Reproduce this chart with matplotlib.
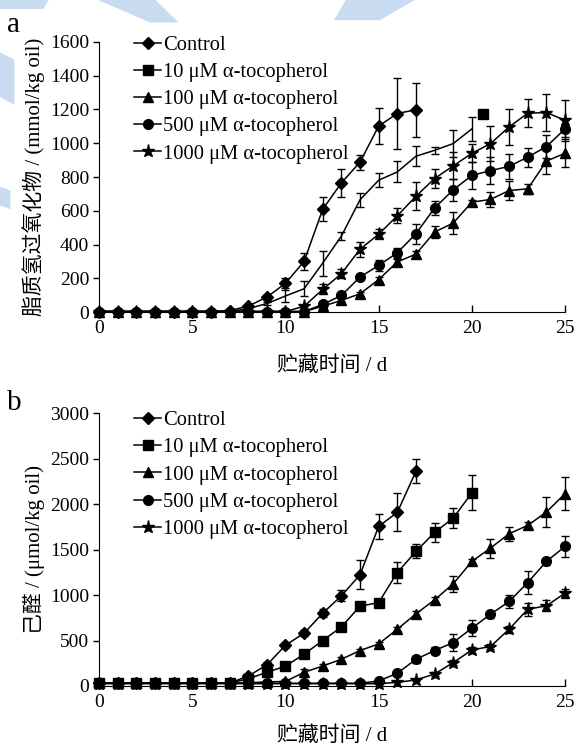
import matplotlib
matplotlib.use("Agg")
import matplotlib.pyplot as plt
from matplotlib.lines import Line2D
from matplotlib.patches import Polygon
import numpy as np

plt.rcParams["font.family"] = ["Liberation Serif", "Noto Sans CJK SC"]
plt.rcParams["font.size"] = 14

labels = [
    "Control",
    "10 μM α-tocopherol",
    "100 μM α-tocopherol",
    "500 μM α-tocopherol",
    "1000 μM α-tocopherol",
]
markers = ["D", "s", "^", "o", "*"]
marker_sizes = [6, 6.5, 7.5, 7, 9.5]

# panel a: lipid hydroperoxides (mmol/kg oil), days 0..n
a_control = [3, 3, 3, 3, 3, 3, 3, 8, 35, 88, 170, 300, 609, 765, 888, 1102, 1176, 1199]
a_control_err = [0, 0, 0, 0, 0, 0, 0, 0, 10, 15, 30, 50, 70, 85, 45, 108, 210, 160]
a_10 = [3, 3, 3, 3, 3, 3, 3, 3, 20, 50, 95, 138, 290, 450, 665, 781, 830, 923, 958, 998, 1085]
a_10_err = [0, 0, 0, 0, 0, 0, 0, 0, 5, 10, 35, 45, 74, 25, 41, 43, 62, 59, 20, 80, 69]
a_10_stray_day = [20.6]
a_10_stray = [1172]
a_100 = [3, 3, 3, 3, 3, 3, 3, 3, 3, 3, 3, 3, 34, 69, 108, 192, 297, 343, 474, 527,
         651, 667, 720, 730, 894, 941]
a_100_err = [0, 0, 0, 0, 0, 0, 0, 0, 0, 0, 0, 0, 8, 12, 12, 15, 20, 20, 35, 66,
             15, 42, 57, 30, 74, 84]
a_500 = [3, 3, 3, 3, 3, 3, 3, 3, 3, 3, 3, 3, 45, 98, 207, 276, 351, 464, 616, 724,
         809, 838, 863, 918, 980, 1085]
a_500_err = [0, 0, 0, 0, 0, 0, 0, 0, 0, 0, 0, 0, 10, 12, 15, 35, 30, 59, 44, 64,
             79, 81, 74, 56, 67, 50]
a_1000 = [3, 3, 3, 3, 3, 3, 3, 3, 3, 3, 3, 34, 134, 227, 372, 461, 570, 686, 791, 866,
          940, 998, 1097, 1178, 1182, 1136]
a_1000_err = [0, 0, 0, 0, 0, 0, 0, 0, 0, 0, 0, 10, 30, 25, 44, 30, 44, 84, 54, 80,
              54, 104, 108, 82, 108, 123]

# panel b: hexanal (umol/kg oil)
b_control = [30, 30, 30, 30, 30, 30, 30, 30, 110, 231, 448, 581, 801, 992, 1224, 1757, 1911, 2363]
b_control_err = [0, 0, 0, 0, 0, 0, 0, 0, 20, 30, 30, 30, 45, 60, 160, 140, 210, 133]
b_10 = [30, 30, 30, 30, 30, 30, 30, 30, 80, 150, 218, 350, 500, 650, 878, 918, 1249,
        1481, 1690, 1849, 2125]
b_10_err = [0, 0, 0, 0, 0, 0, 0, 0, 15, 20, 20, 20, 25, 25, 30, 30, 115, 77, 105, 115, 193]
b_100 = [30, 30, 30, 30, 30, 30, 30, 30, 35, 45, 50, 150, 220, 294, 390, 463, 625, 794,
         948, 1125, 1371, 1518, 1676, 1768, 1915, 2117]
b_100_err = [0, 0, 0, 0, 0, 0, 0, 0, 0, 0, 0, 40, 20, 20, 20, 20, 25, 30, 30, 90, 30,
             105, 75, 40, 170, 180]
b_500 = [30, 30, 30, 30, 30, 30, 30, 30, 30, 30, 30, 30, 30, 30, 30, 55, 140, 294, 390,
         478, 636, 790, 930, 1139, 1371, 1536]
b_500_err = [0, 0, 0, 0, 0, 0, 0, 0, 0, 0, 0, 0, 0, 0, 0, 20, 20, 40, 40, 90, 90, 40,
             75, 123, 40, 114]
b_1000 = [25, 25, 25, 25, 25, 25, 25, 25, 25, 25, 25, 25, 25, 25, 25, 25, 40, 66, 132,
          257, 397, 434, 625, 845, 882, 1022]
b_1000_err = [0, 0, 0, 0, 0, 0, 0, 0, 0, 0, 0, 0, 0, 0, 0, 0, 0, 15, 20, 30, 30, 30, 40,
              70, 60, 50]

x_ticks = [0, 5, 10, 15, 20, 25]
a_y_ticks = [0, 200, 400, 600, 800, 1000, 1200, 1400, 1600]
b_y_ticks = [0, 500, 1000, 1500, 2000, 2500, 3000]


def draw_series(ax, values, errors, marker, size, show_markers=True):
    days = np.arange(len(values))
    values = np.asarray(values, dtype=float)
    errors = np.asarray(errors, dtype=float)
    ax.plot(days, values, color="black", linewidth=1.1,
            marker=marker if show_markers else None, markersize=size,
            markerfacecolor="black", markeredgecolor="black", clip_on=False, zorder=3)
    keep = errors > 0
    ax.errorbar(days[keep], values[keep], yerr=errors[keep], fmt="none",
                ecolor="black", elinewidth=1.0, capsize=3.2, capthick=1.0,
                clip_on=False, zorder=2)


def style_axis(ax, y_ticks, ylabel, xlabel_y, legend_y):
    ax.set_xlim(0, 25)
    ax.set_ylim(y_ticks[0], y_ticks[-1])
    ax.set_xticks(x_ticks)
    ax.set_yticks(y_ticks)
    ax.spines["top"].set_visible(False)
    ax.spines["right"].set_visible(False)
    ax.tick_params(axis="x", direction="in", length=5, width=1, pad=6)
    ax.tick_params(axis="y", direction="out", length=4, width=1, pad=3)
    ax.set_ylabel(ylabel, fontsize=15)
    ax.yaxis.set_label_coords(-0.115, 0.5)
    ax.set_xlabel("贮藏时间 / d", fontsize=15)
    ax.xaxis.set_label_coords(0.5, xlabel_y)
    handles = [
        Line2D([], [], color="black", linewidth=1.1, marker=m, markersize=s,
               markerfacecolor="black")
        for m, s in zip(markers, marker_sizes)
    ]
    ax.legend(handles, labels, loc="upper left", bbox_to_anchor=(0.058, legend_y),
              frameon=False, handlelength=1.3, handletextpad=0.1,
              labelspacing=0.38, borderaxespad=0, fontsize=14.8)


fig = plt.figure(figsize=(5.76, 7.47), dpi=100)

# light blue watermark shapes at the top left
watermark = "#c9dbf1"
for pts in [
    [(0.0, 1.0), (0.085, 1.0), (0.075, 0.988), (0.0, 0.988)],
    [(0.17, 1.0), (0.27, 1.0), (0.31, 0.97), (0.26, 0.97)],
    [(0.60, 1.0), (0.72, 1.0), (0.66, 0.973), (0.58, 0.973)],
    [(0.0, 0.93), (0.025, 0.92), (0.025, 0.86), (0.0, 0.87)],
    [(0.0, 0.75), (0.018, 0.745), (0.018, 0.72), (0.0, 0.725)],
]:
    fig.patches.append(Polygon(pts, closed=True, transform=fig.transFigure,
                               facecolor=watermark, edgecolor="none", zorder=0))

ax_a = fig.add_axes([0.172, 0.5823, 0.809, 0.3615])
ax_b = fig.add_axes([0.172, 0.0817, 0.809, 0.3648])

for values, errors, m, s in zip(
    [a_control, a_10, a_100, a_500, a_1000],
    [a_control_err, a_10_err, a_100_err, a_500_err, a_1000_err],
    markers, marker_sizes,
):
    draw_series(ax_a, values, errors, m, s, show_markers=(m != "s"))
ax_a.plot(a_10_stray_day, a_10_stray, linestyle="none", marker="s",
          markersize=6.5, color="black", zorder=3)
style_axis(ax_a, a_y_ticks, "脂质氢过氧化物 / (mmol/kg oil)", -0.165, 1.055)

for values, errors, m, s in zip(
    [b_control, b_10, b_100, b_500, b_1000],
    [b_control_err, b_10_err, b_100_err, b_500_err, b_1000_err],
    markers, marker_sizes,
):
    draw_series(ax_b, values, errors, m, s)
style_axis(ax_b, b_y_ticks, "己醛 / (μmol/kg oil)", -0.148, 1.04)

fig.text(0.012, 0.967, "a", fontsize=21, va="center", ha="left")
fig.text(0.012, 0.46, "b", fontsize=21, va="center", ha="left")

fig.savefig("out.png", dpi=100)
plt.close(fig)
